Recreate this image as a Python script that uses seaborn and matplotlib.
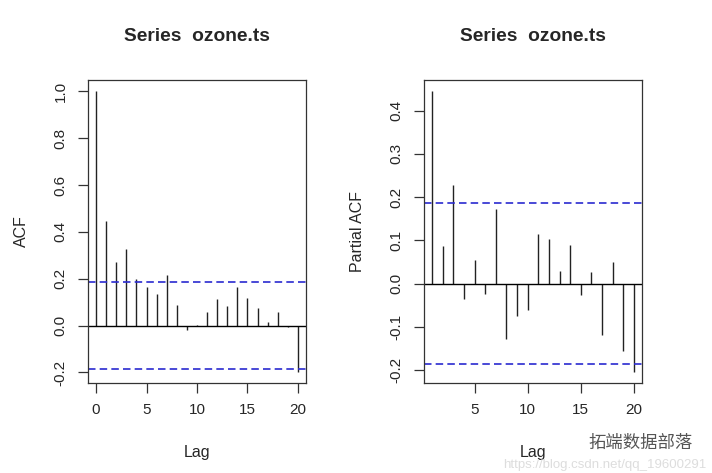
import numpy as np
import matplotlib
matplotlib.use('Agg')
import matplotlib.pyplot as plt
import seaborn as sns

# ACF / PACF values
acf_lags = list(range(0, 21))
acf_vals = [1.0, 0.445, 0.270, 0.328, 0.200, 0.166, 0.133, 0.217, 0.087, -0.020,
            0.004, 0.057, 0.113, 0.084, 0.163, 0.118, 0.074, 0.017, 0.058, -0.006,
            -0.197]
pacf_lags = list(range(1, 21))
pacf_vals = [0.445, 0.088, 0.227, -0.036, 0.055, -0.023, 0.173, -0.128, -0.075, -0.061,
             0.115, 0.102, 0.028, 0.090, -0.026, 0.027, -0.118, 0.049, -0.157, -0.204]
conf_limit = 0.187
acf_yticks = [-0.2, 0.0, 0.2, 0.4, 0.6, 0.8, 1.0]
pacf_yticks = [-0.2, -0.1, 0.0, 0.1, 0.2, 0.3, 0.4]
acf_xticks = [0, 5, 10, 15, 20]
pacf_xticks = [5, 10, 15, 20]

sns.set_style('ticks')
plt.rcParams['font.family'] = ['Liberation Sans', 'Noto Sans CJK SC', 'DejaVu Sans']

fig = plt.figure(figsize=(7.12, 4.73), dpi=100)
ax1 = fig.add_axes([0.1236, 0.1903, 0.3062, 0.6406])
ax2 = fig.add_axes([0.5955, 0.1903, 0.3062, 0.6406])


def r_lim(vals):
    # R pads the data range by 4% on each side
    lo, hi = min(vals), max(vals)
    d = (hi - lo) * 0.04
    return lo - d, hi + d


def draw(ax, lags, vals, yticks, xticks, ylabel):
    ax.vlines(lags, 0, vals, color='#222222', lw=1.0)
    ax.axhline(0, color='black', lw=1.0)
    for c in (conf_limit, -conf_limit):
        ax.axhline(c, color='#2a2ad0', lw=1.2, ls=(0, (4.5, 2.5)))
    ax.set_xlim(*r_lim(lags))
    ax.set_ylim(*r_lim(vals + [conf_limit, -conf_limit]))
    ax.set_xticks(xticks)
    ax.set_yticks(yticks)
    ax.set_yticklabels([f'{t:.1f}' for t in yticks], rotation=90, va='center')
    ax.tick_params(axis='both', length=7.5, width=0.9, color='#333333',
                   labelsize=11, pad=7, direction='out')
    for s in ax.spines.values():
        s.set_color('#333333')
        s.set_linewidth(0.9)
    ax.set_xlabel('Lag', fontsize=11.5)
    ax.set_ylabel(ylabel, fontsize=11.5)
    ax.xaxis.set_label_coords(0.5, -0.228)
    ax.xaxis.label.set_va('center')
    ax.yaxis.set_label_coords(-0.303, 0.5)
    ax.yaxis.label.set_va('center')
    ax.set_title('Series  ozone.ts', fontsize=13.8, fontweight='bold', pad=0,
                 y=1.145, va='center')


draw(ax1, acf_lags, acf_vals, acf_yticks, acf_xticks, 'ACF')
draw(ax2, pacf_lags, pacf_vals, pacf_yticks, pacf_xticks, 'Partial ACF')

# watermark
fig.text(0.992, 0.016, 'https://blog.csdn.net/qq_19600291', ha='right', va='center',
         fontsize=9.5, color='#dddddd')
fig.text(0.826, 0.064, '拓端数据部落', ha='left', va='center', fontsize=12.5,
         color='#555555')

fig.savefig('out.png', dpi=100)
